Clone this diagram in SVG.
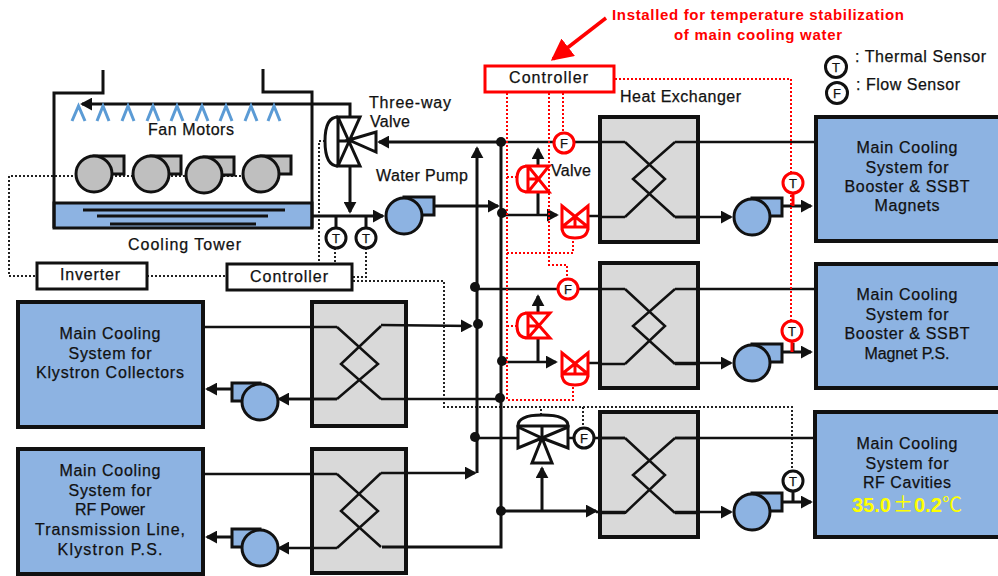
<svg xmlns="http://www.w3.org/2000/svg" width="998" height="576" viewBox="0 0 998 576">
<style>
text{font-family:"Liberation Sans",Arial,sans-serif;font-size:16px;fill:#111;stroke:#111;stroke-width:.25;text-anchor:middle}
.l{text-anchor:start}
text.r{fill:#ff0000;stroke:none;font-weight:bold;font-size:15px}
text.s{font-size:13px}
.blue{fill:#8DB3E2;stroke:#111;stroke-width:4}
.hx{fill:#D9D9D9;stroke:#111;stroke-width:4}
.box{fill:#fff;stroke:#111;stroke-width:3}
.p{fill:none;stroke:#111;stroke-width:3}
.t{fill:none;stroke:#111;stroke-width:2.5}
.x{fill:none;stroke:#111;stroke-width:2.5;stroke-linejoin:miter}
.d{fill:none;stroke:#222;stroke-width:2;stroke-dasharray:2 2}
.rd{fill:none;stroke:#ff0000;stroke-width:2;stroke-dasharray:2 2}
.sen{fill:#fff;stroke:#111;stroke-width:3}
.rs{fill:#fff;stroke:#ff0000;stroke-width:3}
.rv{fill:none;stroke:#ff0000;stroke-width:3}
.ch{fill:none;stroke:#5B9BD5;stroke-width:3}
.pf{fill:#8DB3E2;stroke:#111;stroke-width:3}
.gf{fill:#BFBFBF;stroke:#111;stroke-width:3}
text.y{fill:#ffff00;stroke:none;font-size:20px}
</style>
<defs>
<marker id="a" markerUnits="userSpaceOnUse" markerWidth="13" markerHeight="13" refX="11" refY="7" orient="auto" viewBox="0 0 14 14"><path d="M0 0L13 7L0 14Z" fill="#111"/></marker>
<marker id="ar" markerUnits="userSpaceOnUse" markerWidth="22" markerHeight="22" refX="14" refY="8" orient="auto" viewBox="0 0 16 16"><path d="M0 0L16 8L0 16Z" fill="#ff0000"/></marker>
<path id="cr" d="M-24 -37L16 0L-24 38M26 -37L-16 0L26 38M-49 -37H-24M26 -37H49M-49 38H-24M26 38H49" class="x"/>
<g id="pumpR"><path d="M0 -19H30V-1H0Z" class="pf"/><circle cx="0" cy="0" r="18" class="pf"/></g>
<g id="pumpL"><path d="M0 -19H-28V-1H0Z" class="pf"/><circle cx="0" cy="0" r="18" class="pf"/></g>
<g id="mot"><path d="M0 -18H30V0H0Z" class="gf"/><circle cx="0" cy="0" r="18" class="gf"/></g>
</defs>

<g id="heat-exchangers">
<rect id="hx1" x="600" y="117" width="98" height="125" class="hx"/>
<rect id="hx2" x="600" y="263" width="98" height="125" class="hx"/>
<rect id="hx3" x="600" y="412" width="98" height="125" class="hx"/>
<rect id="hx4" x="312" y="302" width="94" height="124" class="hx"/>
<rect id="hx5" x="312" y="449" width="94" height="124" class="hx"/>
</g>

<g id="connectors">
<use href="#cr" x="649" y="179"/><use href="#cr" x="649" y="326"/><use href="#cr" x="649" y="475"/>
<path d="M337 327L378 364L337 399M381 326L341 364L381 399" class="x"/>
<path d="M337 474L378 511L337 548M381 473L341 511L381 547" class="x"/>

<path class="d" d="M245 176H9V276H37M147 276H227M325 141H319V264M335 248V264M366 248V277H353M353 281H444V407H792V471M541 415V407M583 407V427"/>

<path class="p" d="M350 116V104H82" marker-end="url(#a)"/>
<path class="p" d="M350 166V212" marker-end="url(#a)"/>
<path class="p" d="M500 142H379" marker-end="url(#a)"/>
<path class="p" d="M477 473V148" marker-end="url(#a)"/>
<path class="p" d="M501 142V547H382"/>
<path class="p" d="M312 216H383" marker-end="url(#a)"/>
<path class="p" d="M336 216V228M366 216V228"/>
<path class="p" d="M433 206H498" marker-end="url(#a)"/>
<path class="t" d="M501 142H600M698 142H815"/>
<path class="t" d="M502 215H557" marker-end="url(#a)"/>
<path class="p" d="M538 215V192M538 166V149" marker-end="url(#a)"/>
<path class="t" d="M588 216H600"/>
<path class="t" d="M675 217H731" marker-end="url(#a)"/>
<path class="p" d="M782 206H811" marker-end="url(#a)"/>
<path class="t" d="M475 289H600M698 289H815"/>
<path class="t" d="M502 362H556" marker-end="url(#a)"/>
<path class="p" d="M538 362V338M538 313V296" marker-end="url(#a)"/>
<path class="t" d="M588 363H600"/>
<path class="t" d="M675 363H731" marker-end="url(#a)"/>
<path class="p" d="M782 352H811" marker-end="url(#a)"/>
<path class="t" d="M475 438H518M568 438H625M675 438H815"/>
<path class="p" d="M501 511H596" marker-end="url(#a)"/>
<path class="p" d="M542 511V468" marker-end="url(#a)"/>
<path class="t" d="M596 512H625"/>
<path class="t" d="M675 512H731" marker-end="url(#a)"/>
<path class="p" d="M782 502H811" marker-end="url(#a)"/>
<path class="t" d="M203 327H337M381 325L471 326" marker-end="url(#a)"/>
<path class="t" d="M381 399H500M337 399H282"/>
<path class="t" d="M337 399H279" marker-end="url(#a)"/>
<path class="p" d="M232 389H207" marker-end="url(#a)"/>
<path class="t" d="M203 474H337M381 473H475" marker-end="url(#a)"/>
<path class="t" d="M337 548H279" marker-end="url(#a)"/>
<path class="p" d="M232 537H207" marker-end="url(#a)"/>
<path class="p" d="M793 490V502M793 343V352"/>
<g fill="#111">
<circle cx="501" cy="142" r="5"/><circle cx="502" cy="213" r="5"/><circle cx="502" cy="361" r="5"/><circle cx="500" cy="398" r="5"/><circle cx="501" cy="511" r="5"/>
<circle cx="478" cy="324" r="5"/><circle cx="475" cy="287" r="5"/><circle cx="475" cy="437" r="5"/>
</g>
<path class="rd" d="M507 93V400H573V385M549 93V252M549 252V265H567V278M563 93V132M507 253H573V238M615 79H791V320M507 177H517M507 326H517"/>
<path d="M606 18L553 59" fill="none" stroke="#ff0000" stroke-width="3.5" marker-end="url(#ar)"/>
</g>

<g id="cooling-tower">
<rect x="54" y="203" width="258" height="25" class="blue" style="stroke-width:3"/>
<path d="M103 70V93H54V228M263 69V92H312V228" class="p"/>
<path d="M83 210H285M97 216H268M110 224H256" class="p"/>
<path d="M72 121L78.500 106L85 121M97 121L103 106L109 121M122 121L128 106L134 121M147 121L153 106L159 121M171 121L177 106L183 121M196 121L202 106L208 121M220 121L226 106L232 121M245 121L251 106L257 121M268 121L274 106L280 121" class="ch"/>
<text x="191" y="135" textLength="86">Fan Motors</text>
<text x="184.500" y="250" textLength="113">Cooling Tower</text>
</g>
<g id="motors"><use href="#mot" x="94" y="174"/><use href="#mot" x="151" y="174"/><use href="#mot" x="204" y="175"/><use href="#mot" x="261" y="174"/></g>

<g id="three-way-valve">
<path d="M338 117H360L338 166H360ZM349 140L376 132V152Z" fill="#fff" stroke="#111" stroke-width="3"/>
<path d="M338 117Q325 117 325 141Q325 166 338 166M338 117V166M338 141H349" class="p"/>
<text class="l" x="369" y="108" textLength="82">Three-way</text>
<text class="l" x="370" y="127" textLength="40">Valve</text>
</g>

<g id="inverter"><rect x="37" y="263" width="110" height="26" class="box"/><text x="90" y="280" textLength="60">Inverter</text></g>
<g id="controller"><rect x="227" y="264" width="125" height="26" class="box"/><text x="289" y="282" textLength="78">Controller</text></g>
<g id="red-controller"><rect x="485" y="66" width="129" height="26" fill="#fff" stroke="#ff0000" stroke-width="3"/><text x="548.500" y="83" textLength="79">Controller</text></g>

<g id="water-pump"><use href="#pumpR" x="404" y="216"/><text x="422" y="181" textLength="92">Water Pump</text></g>
<g id="pump1"><use href="#pumpR" x="752" y="217"/></g>
<g id="pump2"><use href="#pumpR" x="752" y="363"/></g>
<g id="pump3"><use href="#pumpR" x="752" y="512"/></g>
<g id="pump4"><use href="#pumpL" x="260" y="402"/></g>
<g id="pump5"><use href="#pumpL" x="260" y="548"/></g>

<g id="sensors">
<g id="t1"><circle cx="336" cy="238" r="10" class="sen"/><text class="s" x="336" y="243">T</text></g>
<g id="t2"><circle cx="366" cy="238" r="10" class="sen"/><text class="s" x="366" y="243">T</text></g>
<g id="t3"><path d="M793 193V206" stroke="#ff0000" stroke-width="3"/><circle cx="793" cy="183" r="10" class="rs"/><text class="s" x="793" y="188">T</text></g>
<g id="t4"><path d="M792 341V352" stroke="#ff0000" stroke-width="3"/><circle cx="792" cy="331" r="10" class="rs"/><text class="s" x="792" y="336">T</text></g>
<g id="t5"><circle cx="793" cy="481" r="10" class="sen"/><text class="s" x="793" y="486">T</text></g>
<g id="f1"><circle cx="564" cy="143" r="10" class="rs"/><text class="s" x="564" y="148">F</text></g>
<g id="f2"><circle cx="568" cy="289" r="10" class="rs"/><text class="s" x="568" y="294">F</text></g>
<g id="f3"><circle cx="584" cy="438" r="10" class="sen"/><text class="s" x="584" y="443">F</text></g>
</g>

<g id="red-valves">
<g id="rv1"><path d="M528 166H549L528 192H549ZM528 179H538M517 179Q517 166 528 166V192Q517 192 517 179Z" class="rv"/></g>
<g id="rv2"><path d="M562 206V227L588 206V227ZM575 216V227M562 227H588Q588 238 575 238Q562 238 562 227Z" class="rv"/></g>
<g id="rv3"><path d="M528 313H550L528 338H550ZM528 326H539M517 326Q517 313 528 313V338Q517 338 517 326Z" class="rv"/></g>
<g id="rv4"><path d="M562 353V374L588 353V374ZM575 363V374M562 374H588Q588 385 575 385Q562 385 562 374Z" class="rv"/></g>
<text class="l" x="551" y="176" textLength="40">Valve</text>
</g>

<g id="mixing-valve">
<path d="M518 427V448L542 438L568 427V448L542 438ZM542 438L532 463H552Z" fill="#fff" stroke="#111" stroke-width="3"/>
<path d="M518 426Q518 415 542 415Q568 415 568 426ZM542 426V438" class="p"/>
</g>

<g id="label-exchanger"><text x="680.500" y="102" textLength="121">Heat Exchanger</text></g>
<g id="note">
<text class="r" x="758" y="20" textLength="292">Installed for temperature stabilization</text>
<text class="r" x="758" y="40" textLength="168">of main cooling water</text>
</g>
<g id="legend">
<circle cx="836" cy="67" r="10.500" class="sen"/><text class="s" x="836" y="72">T</text>
<circle cx="837" cy="93" r="10.500" class="sen"/><text class="s" x="837" y="98">F</text>
<text class="l" x="855" y="62" textLength="131">: Thermal Sensor</text>
<text class="l" x="856" y="90" textLength="104">: Flow Sensor</text>
</g>

<g id="sys-magnets"><rect x="816" y="117" width="184" height="124" class="blue"/>
<text x="907" y="153" textLength="101">Main Cooling</text><text x="907" y="173" textLength="83">System for</text><text x="907" y="192" textLength="125">Booster &amp; SSBT</text><text x="907" y="211" textLength="65">Magnets</text></g>
<g id="sys-ps"><rect x="816" y="264" width="184" height="124" class="blue"/>
<text x="907" y="300" textLength="101">Main Cooling</text><text x="907" y="320" textLength="83">System for</text><text x="907" y="339" textLength="125">Booster &amp; SSBT</text><text x="907" y="359" textLength="85">Magnet P.S.</text></g>
<g id="sys-rf"><rect x="815" y="412" width="185" height="125" class="blue"/>
<text x="907" y="449" textLength="101">Main Cooling</text><text x="907" y="469" textLength="83">System for</text><text x="907" y="488" textLength="88">RF Cavities</text>
<text class="l y" x="852" y="512" font-weight="bold">35.0</text>
<text class="l y" x="893" y="512" style="font-family:'Noto Sans CJK SC',sans-serif">±</text>
<text class="l y" x="914" y="512" font-weight="bold">0.2</text>
<text class="l y" x="942" y="512" style="font-family:'Noto Sans CJK SC',sans-serif">℃</text></g>
<g id="sys-klystron"><rect x="18" y="302" width="185" height="125" class="blue"/>
<text x="110" y="339" textLength="101">Main Cooling</text><text x="110" y="359" textLength="83">System for</text><text x="110" y="378" textLength="148">Klystron Collectors</text></g>
<g id="sys-power"><rect x="18" y="449" width="185" height="125" class="blue"/>
<text x="110" y="476" textLength="101">Main Cooling</text><text x="110" y="496" textLength="83">System for</text><text x="110" y="515" textLength="70">RF Power</text><text x="110" y="535" textLength="150">Transmission Line,</text><text x="110" y="555" textLength="105">Klystron P.S.</text></g>
</svg>
